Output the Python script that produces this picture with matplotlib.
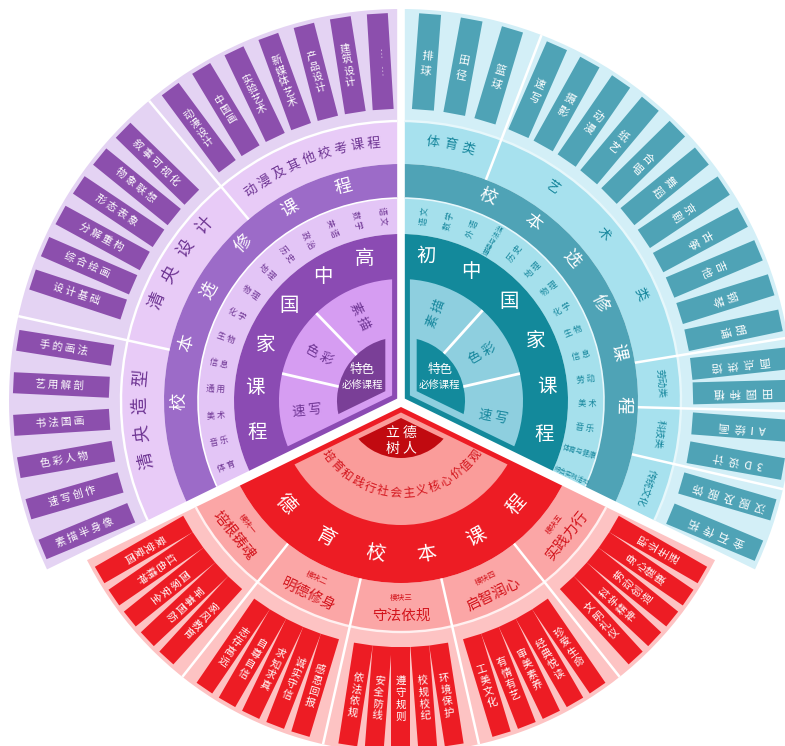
import numpy as np
import matplotlib
matplotlib.use('Agg')
import matplotlib.pyplot as plt
from matplotlib.patches import Wedge, Polygon

plt.rcParams['font.family'] = ['Noto Sans CJK SC', 'DejaVu Sans']

# ---------------- 数据 ----------------
# 高中（紫色）
hs_core = ['素描', '色彩', '速写']
hs_title = '高中国家课程'
hs_subjects = ['语文', '数学', '英语', '政治', '历史', '地理', '物理',
               '化学', '生物', '信息', '通用', '美术', '音乐', '体育']
hs_elective = '校本选修课程'
hs_groups = ['动漫及其他校考课程', '清央设计', '清央造型']
hs_courses = [
    ['……', '建筑设计', '产品设计', '新媒体艺术', '实验艺术', '中国画', '动漫设计'],
    ['叙事可视化', '物象联想', '形态表象', '分解重构', '综合绘画', '设计基础'],
    ['手的画法', '艺用解剖', '书法国画', '色彩人物', '速写创作', '素描半身像'],
]

# 初中（青色）
ms_core = ['素描', '色彩', '速写']
ms_title = '初中国家课程'
ms_subjects = ['语文', '数学', '外语', '道德与法治', '历史', '地理', '物理', '化学',
               '生物', '信息', '劳动', '美术', '音乐', '体育与健康', '综合实践活动']
ms_elective = '校本选修课程'
ms_groups = ['体育类', '艺术类', '劳动类', '科技类', '传统文化']
ms_courses = [
    ['排球', '田径', '篮球'],
    ['速写', '摄影', '动漫', '纸艺', '合唱', '舞蹈', '京剧', '古筝', '吉他', '钢琴', '朗诵'],
    ['面点烘焙', '田园种植'],
    ['AI绘画', '3D设计'],
    ['汉服及服饰', '金石传拓'],
]

# 德育（红色）
moral_core = ['立德', '树人']
moral_values = '培育和践行社会主义核心价值观'
moral_title = '德育校本课程'
moral_modules = ['模块一', '模块二', '模块三', '模块四', '模块五']
moral_themes = ['培根铸魂', '明德修身', '守法依规', '启智润心', '实践力行']
moral_courses = [
    ['爱党爱国', '红色精神', '国家安全', '军事国防', '家风教育'],
    ['志存高远', '自尊自信', '求知求真', '诚实守信', '感恩回报'],
    ['依法依规', '安全防线', '遵守规则', '校规校纪', '环境保护'],
    ['工美文化', '有情有艺', '审美素养', '经典悦读', '珍爱生命'],
    ['文明礼仪', '科学精神', '劳动创造', '身心健康', '职业生涯'],
]

# ---------------- 布局 ----------------
CX, CY = 401, 345
R_CORE, R_LIGHT, R_DARK, R_SUBJ, R_XB, R_LABEL, R_OUT = 64, 122, 167, 203, 237, 280, 392
R2_CORE, R2_PINK, R2_DARK, R2_MOD, R2_OUT = 57, 124, 182, 231, 352

fig = plt.figure(figsize=(7.85, 7.46), dpi=100)
ax = fig.add_axes([0, 0, 1, 1])
ax.set_xlim(0, 785)
ax.set_ylim(0, 746)
ax.axis('off')


def pt(r, a):
    t = np.radians(a)
    return CX + r * np.cos(t), CY + r * np.sin(t)


def clip_wedge(a0, a1, shift):
    b = np.radians((a0 + a1) / 2)
    return Wedge((CX + shift * np.cos(b), CY + shift * np.sin(b)), 2000, a0, a1,
                 transform=ax.transData)


def ring(r0, r1, a0, a1, color, clip):
    w = Wedge((CX, CY), r1, a0, a1, width=(r1 - r0) if r0 > 0 else None,
              facecolor=color, edgecolor='none')
    ax.add_patch(w)
    w.set_clip_path(clip)


def spoke(r0, r1, a, clip, lw=1.5):
    x0, y0 = pt(r0, a)
    x1, y1 = pt(r1, a)
    ln, = ax.plot([x0, x1], [y0, y1], color='white', lw=lw, solid_capstyle='butt')
    ln.set_clip_path(clip)


def bar(r0, r1, a, w, color, clip):
    t = np.radians(a)
    u = np.array([np.cos(t), np.sin(t)])
    n = np.array([-np.sin(t), np.cos(t)])
    c = np.array([CX, CY])
    p = Polygon([c + r0 * u - w / 2 * n, c + r1 * u - w / 2 * n,
                 c + r1 * u + w / 2 * n, c + r0 * u + w / 2 * n],
                closed=True, facecolor=color, edgecolor='none')
    ax.add_patch(p)
    p.set_clip_path(clip)


def txt(r, a, s, rot, **kw):
    x, y = pt(r, a)
    ax.text(x, y, s, rotation=rot, rotation_mode='anchor', ha='center', va='center',
            multialignment='center', **kw)


def arc_text(s, r, a_first, a_last, rot_off, **kw):
    for ch, a in zip(s, np.linspace(a_first, a_last, len(s))):
        txt(r, a, ch, 0 if rot_off is None else a + rot_off, **kw)


def spaced(s, sep=' '):
    return sep.join(s)


# ================= 紫色：高中 =================
P0, P1 = 90, 206
hs_bounds = [90, 130, 167.5, 206]
hs_pitch = [5.5, 5.2, 6.3]
purple_txt = '#6E3593'
cp = clip_wedge(P0, P1, 4.5)
cp_in = clip_wedge(P0, P1, 10.5)
cp_core = clip_wedge(P0, P1, 18.5)

ring(R_LABEL, R_OUT, P0, P1, '#E4D3F3', cp)
ring(R_XB, R_LABEL, P0, P1, '#E8CBF7', cp)
ring(R_SUBJ, R_XB, P0, P1, '#9C6BC8', cp)
ring(R_DARK, R_SUBJ, P0, P1, '#E3C5F6', cp)
ring(0, R_DARK, P0, P1, '#8B4BB3', cp)
ring(0, R_LIGHT, P0, P1, '#D69DF2', cp_in)
ring(0, R_CORE, P0, P1, '#7A3F97', cp_core)
ring(R_SUBJ - 0.8, R_SUBJ + 0.8, P0, P1, 'white', cp)
ring(R_LABEL - 1.2, R_LABEL + 1.2, P0, P1, 'white', cp)
for a in [134, 167]:
    spoke(R_CORE, R_LIGHT, a, cp_in, 2)
for a in hs_bounds[1:-1]:
    spoke(R_XB, R_OUT, a, cp, 1.8)

for g, courses in enumerate(hs_courses):
    mid = (hs_bounds[g] + hs_bounds[g + 1]) / 2
    n = len(courses)
    for k, name in enumerate(courses):
        a = mid + (k - (n - 1) / 2) * hs_pitch[g]
        bar(292, 388, a, 21, '#8C4FAD', cp)
        if name == '……':
            txt(340, a, '…   …', a - 180, color='white', fontsize=7.5)
        elif g == 0:
            txt(340, a, '\n'.join(name), a - 90, color='white', fontsize=7.5, linespacing=1.15)
        else:
            txt(342, a, spaced(name), a - 180, color='white', fontsize=7.5)

arc_text(hs_groups[0], 259, 125.5, 96, -90, color=purple_txt, fontsize=9.5)
arc_text(hs_groups[1], 264, 157.7, 138.2, -90, color=purple_txt, fontsize=12.5)
arc_text(hs_groups[2], 261, 193, 175, -90, color=purple_txt, fontsize=12.5)
arc_text(hs_elective, 222, 180, 105, -90, color='white', fontsize=12.5)
arc_text(hs_title, 147, 104.5, 192.5, None, color='white', fontsize=14)
for a, s in zip(np.linspace(95.8, 200.6, len(hs_subjects)), hs_subjects):
    txt(186, a, spaced(s), a - 180, color=purple_txt, fontsize=6)
for a, s in zip([116, 151, 186], hs_core):
    txt(94, a, spaced(s), a - 180, color=purple_txt, fontsize=9.5)
txt(50, 141.5, '特色', 0, color='white', fontsize=9)
txt(42, 157.7, '必修课程', 0, color='white', fontsize=7.5)

# ================= 青色：初中 =================
T0, T1 = -26, 90
ms_bounds = [90, 69, 9.3, -1.5, -13, -26]
ms_pitch = [6.2, 5.43, 4.8, 5.7, 6.4]
teal_txt = '#17879D'
ct = clip_wedge(T0, T1, 4.5)
ct_in = clip_wedge(T0, T1, 10.5)
ct_core = clip_wedge(T0, T1, 18.5)

ring(R_LABEL, R_OUT, T0, T1, '#D3EFF7', ct)
ring(R_XB, R_LABEL, T0, T1, '#A7E1EE', ct)
ring(R_SUBJ, R_XB, T0, T1, '#4FA3B6', ct)
ring(R_DARK, R_SUBJ, T0, T1, '#A5E0EC', ct)
ring(0, R_DARK, T0, T1, '#13899B', ct)
ring(0, R_LIGHT, T0, T1, '#8ECFDF', ct_in)
ring(0, R_CORE, T0, T1, '#138A9C', ct_core)
ring(R_SUBJ - 0.8, R_SUBJ + 0.8, T0, T1, '#E6F7FB', ct)
ring(R_LABEL - 1.2, R_LABEL + 1.2, T0, T1, '#E6F7FB', ct)
for a in [48, 13]:
    spoke(R_CORE, R_LIGHT, a, ct_in, 2)
for a in ms_bounds[1:-1]:
    spoke(R_XB, R_OUT, a, ct, 1.8)

for g, courses in enumerate(ms_courses):
    mid = (ms_bounds[g] + ms_bounds[g + 1]) / 2
    n = len(courses)
    for k, name in enumerate(courses):
        a = mid - (k - (n - 1) / 2) * ms_pitch[g]
        bar(292, 388, a, 22, '#4FA3B6', ct)
        if g < 2:
            txt(338, a, '\n'.join(name), a - 90, color='white', fontsize=8, linespacing=1.6)
        else:
            txt(342, a, spaced(name, '  '), a + 180, color='white', fontsize=8)

arc_text(ms_groups[0], 261, 83, 75, -90, color=teal_txt, fontsize=9.5)
arc_text(ms_groups[1], 262, 54.8, 24, -90, color=teal_txt, fontsize=9.5)
for g in range(2, 5):
    mid = (ms_bounds[g] + ms_bounds[g + 1]) / 2
    txt(260, mid, ms_groups[g], mid - 90, color=teal_txt, fontsize=7)
arc_text(ms_elective, 222, 67, -1, -90, color='white', fontsize=12.5)
arc_text(ms_title, 147, 80, -13, None, color='white', fontsize=14)
for a, s in zip(np.linspace(82.7, -23.6, len(ms_subjects)), ms_subjects):
    fs = 6 if len(s) <= 2 else (5 if len(s) <= 5 else 4.6)
    txt(186, a, spaced(s) if len(s) <= 2 else s, a, color=teal_txt, fontsize=fs)
for a, s in zip([68, 30, -10], ms_core):
    txt(94, a, spaced(s), a, color=teal_txt, fontsize=9.5)
txt(50, 38.5, '特色', 0, color='white', fontsize=9)
txt(42, 22.3, '必修课程', 0, color='white', fontsize=7.5)

# ================= 红色：德育 =================
D0, D1 = 206, 334
red_txt = '#D3141C'
mod_bounds = np.linspace(D0, D1, len(moral_themes) + 1)
cr = clip_wedge(D0, D1, 6)
cr_in = clip_wedge(D0, D1, 11.5)
cr_core = clip_wedge(D0, D1, 17)

ring(R2_MOD, R2_OUT, D0, D1, '#FDC3C3', cr)
ring(R2_DARK, R2_MOD, D0, D1, '#FBA6A6', cr)
ring(0, R2_DARK, D0, D1, '#ED1C24', cr)
ring(0, R2_PINK, D0, D1, '#FA9C9A', cr_in)
ring(0, R2_CORE, D0, D1, '#C10A10', cr_core)
ring(R2_MOD - 1.2, R2_MOD + 1.2, D0, D1, '#FFF0F0', cr)
for a in mod_bounds[1:-1]:
    spoke(R2_DARK, R2_OUT, a, cr, 1.8)

for i, courses in enumerate(moral_courses):
    mid = (mod_bounds[i] + mod_bounds[i + 1]) / 2
    n = len(courses)
    for k, name in enumerate(courses):
        a = mid + (k - (n - 1) / 2) * 4.4
        bar(246, 348, a, 19, '#ED1C24', cr)
        txt(298, a, '\n'.join(name), a + 90, color='white', fontsize=7.5, linespacing=1.2)
    txt(197, mid, moral_modules[i], mid + 90, color=red_txt, fontsize=5.5)
    txt(215, mid, moral_themes[i], mid + 90, color=red_txt, fontsize=10.5)

arc_text(moral_title, 155, 222, 318, 90, color='white', fontsize=14)
arc_text(moral_values, 92, 217, 324, 90, color=red_txt, fontsize=8.5)
txt(40, 270, '\n'.join(spaced(s) for s in moral_core), 0, color='white',
    fontsize=10, linespacing=1.2)

fig.savefig('out.png', dpi=100, facecolor='white')
